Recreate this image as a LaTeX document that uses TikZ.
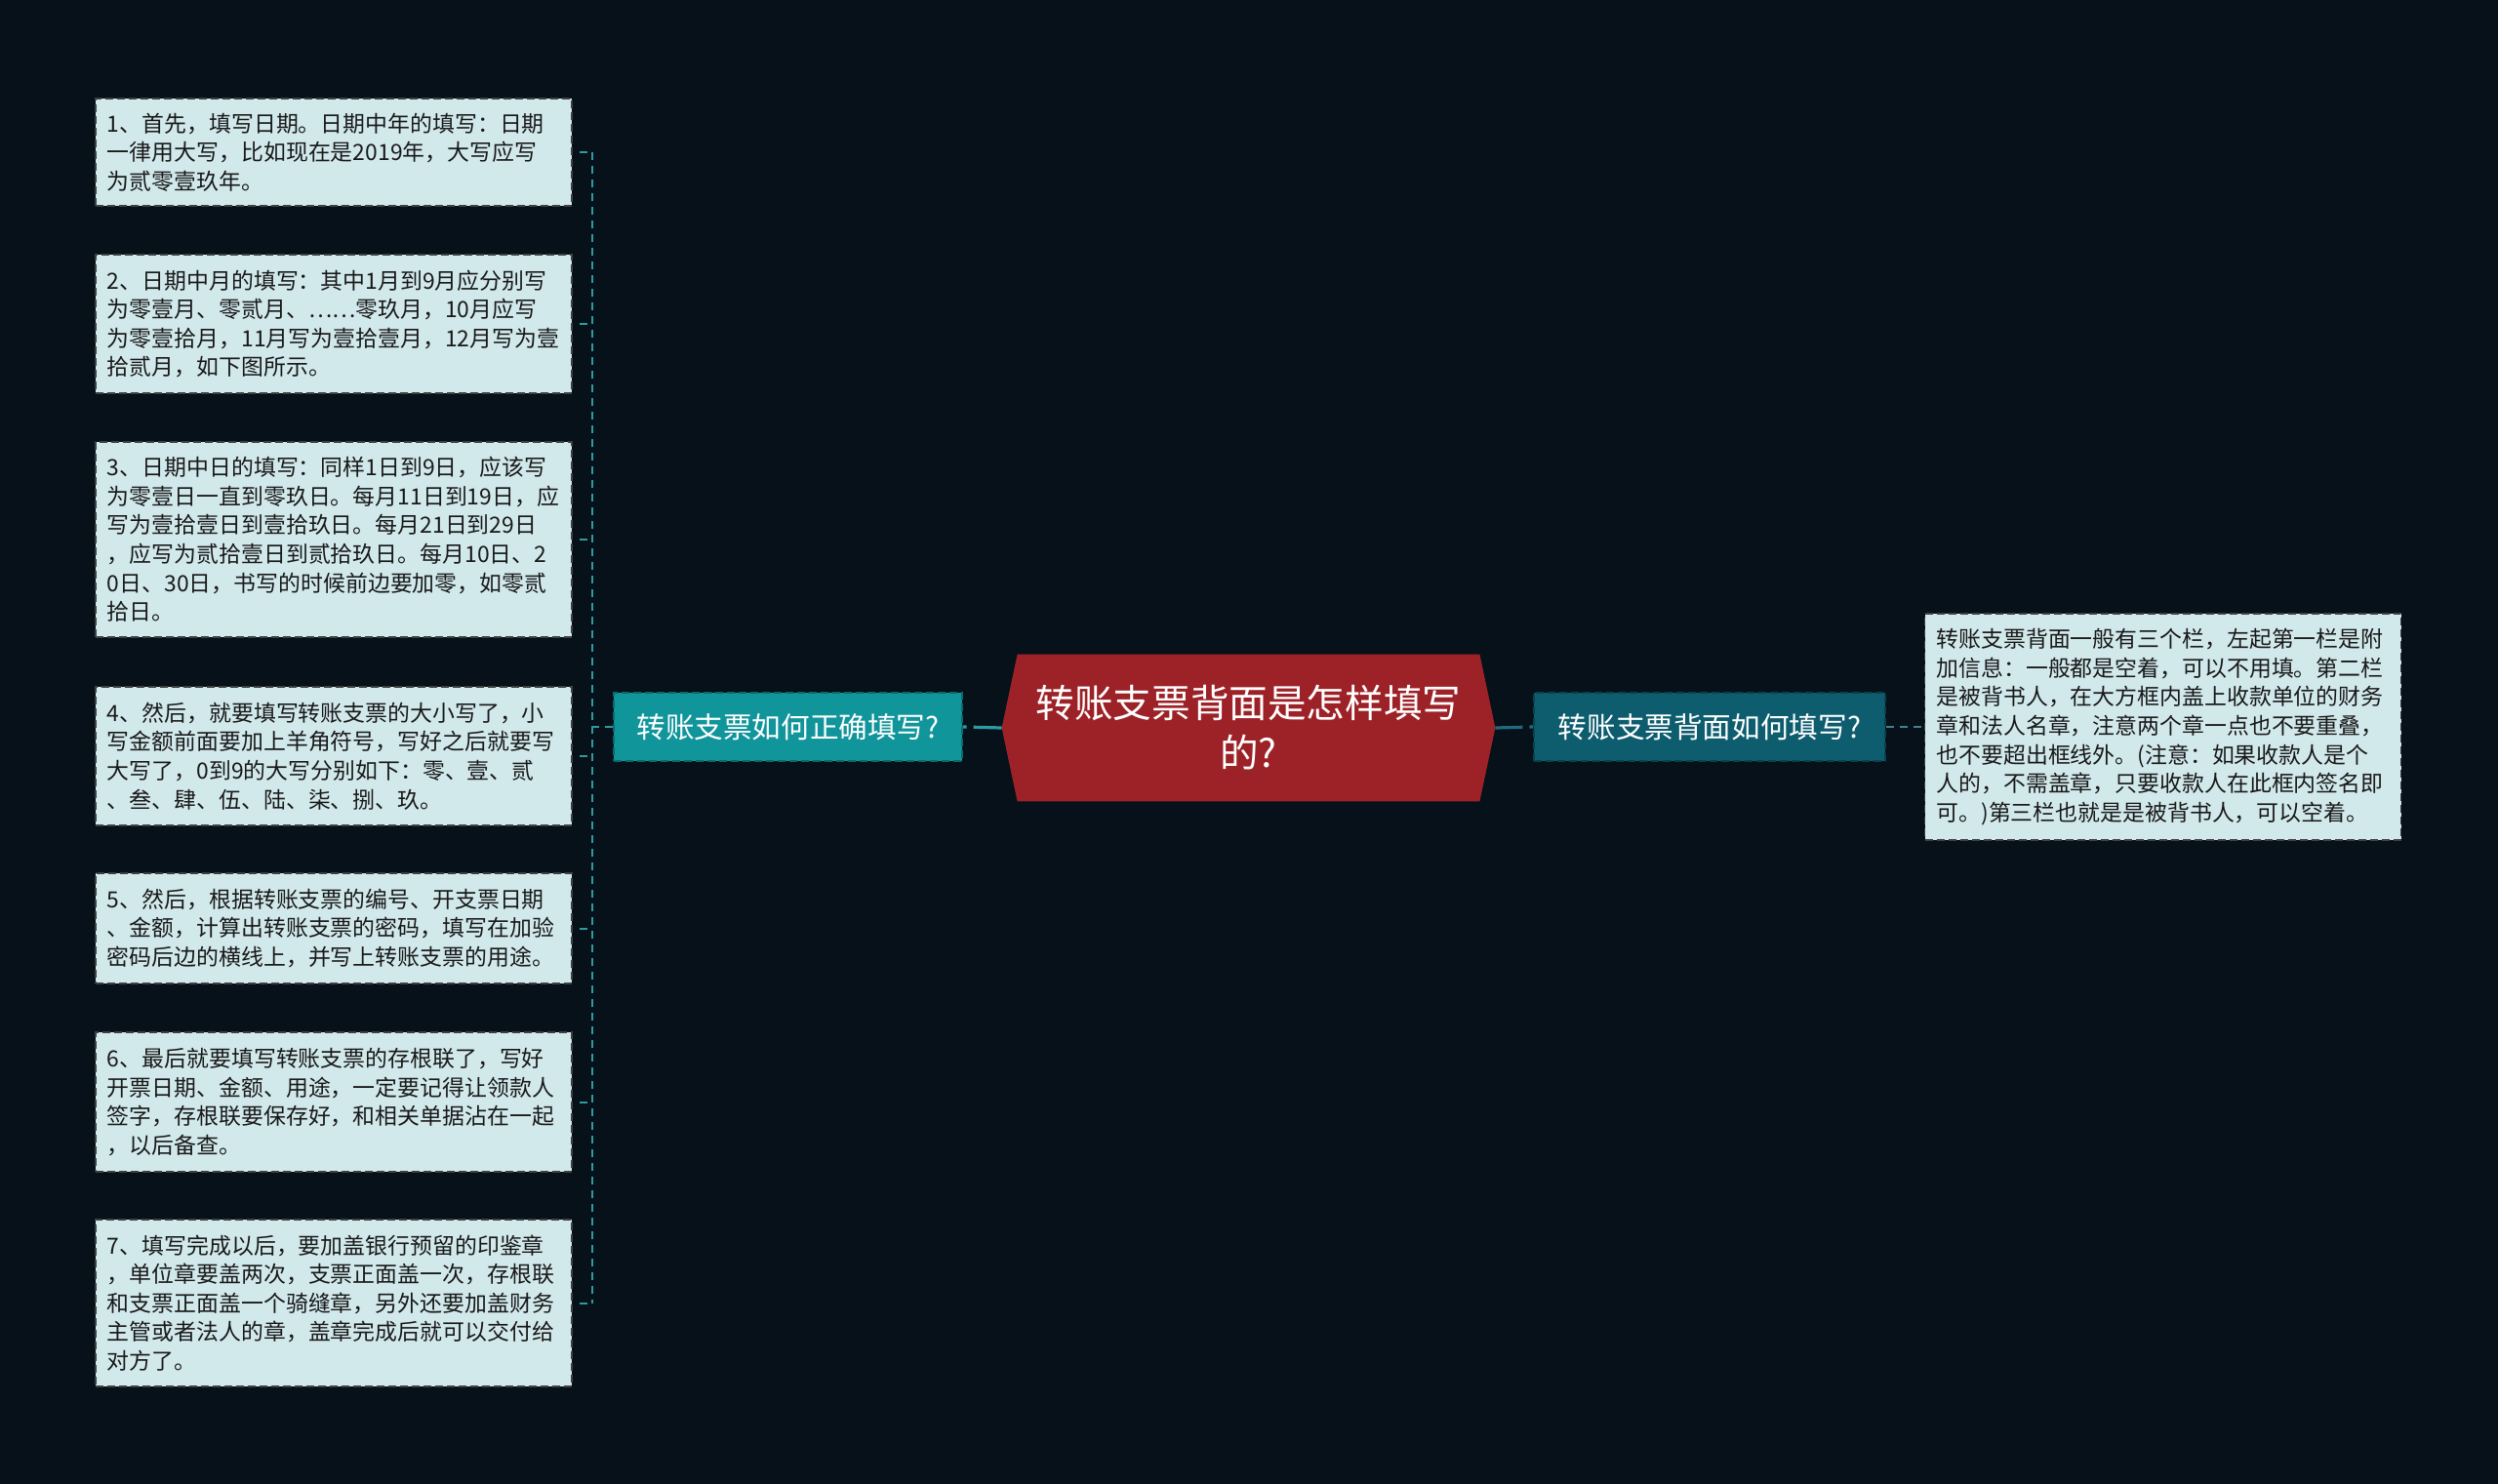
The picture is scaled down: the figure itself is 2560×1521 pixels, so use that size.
\documentclass[tikz,border=0pt]{standalone}
\usepackage{fontspec}
\newfontfamily\cjk{Noto Sans CJK SC}
\usetikzlibrary{backgrounds}
\definecolor{bgdark}{HTML}{06111A}
\definecolor{leaffill}{HTML}{D2E9EC}
\definecolor{tealmain}{HTML}{10959B}
\definecolor{tealdeep}{HTML}{0D5D6F}
\definecolor{rootred}{HTML}{9D2228}
\definecolor{linkteal}{HTML}{2E9AA2}
\definecolor{linkdeep}{HTML}{1F6B7D}
\begin{document}
\begin{tikzpicture}[x=0.5bp, y=-0.5bp,
  leaf/.style={rectangle, fill=leaffill, draw=black!75, dash pattern=on 4bp off 2bp, line width=0.6bp,
    text width=232bp, inner xsep=6bp, align=left, text=black!90,
    font=\cjk\fontsize{11.45bp}{14.8bp}\selectfont},
  branch/.style={rectangle, draw=#1!70!black, fill=#1, dash pattern=on 4bp off 2bp, line width=0.6bp,
    minimum height=35bp, text=white, font=\cjk\fontsize{14.8bp}{18bp}\selectfont},
  rootbox/.style={minimum width=252.5bp, minimum height=75bp, align=center, text=white,
    font=\cjk\fontsize{19.8bp}{25.5bp}\selectfont},
  treelink/.style={linkteal, line width=1bp, dash pattern=on 4bp off 3bp},
  mainlink/.style={line width=1.6bp, dash pattern=on 2bp off 3.5bp on 20bp off 0bp},
  sublink/.style={linkdeep!85!white, line width=1bp, dash pattern=on 4bp off 3bp}]
  % left column
  \node[leaf, minimum height=55bp] (l1) at (342,156) {1、首先，填写日期。日期中年的填写：日期\\一律用大写，比如现在是2019年，大写应写\\为贰零壹玖年。};
  \node[leaf, minimum height=71bp] (l2) at (342,332) {2、日期中月的填写：其中1月到9月应分别写\\为零壹月、零贰月、……零玖月，10月应写\\为零壹拾月，11月写为壹拾壹月，12月写为壹\\拾贰月，如下图所示。};
  \node[leaf, minimum height=100bp] (l3) at (342,553) {3、日期中日的填写：同样1日到9日，应该写\\为零壹日一直到零玖日。每月11日到19日，应\\写为壹拾壹日到壹拾玖日。每月21日到29日\\，应写为贰拾壹日到贰拾玖日。每月10日、2\\0日、30日，书写的时候前边要加零，如零贰\\拾日。};
  \node[leaf, minimum height=71bp] (l4) at (342,775) {4、然后，就要填写转账支票的大小写了，小\\写金额前面要加上羊角符号，写好之后就要写\\大写了，0到9的大写分别如下：零、壹、贰\\、叁、肆、伍、陆、柒、捌、玖。};
  \node[leaf, minimum height=56.5bp] (l5) at (342,951.5) {5、然后，根据转账支票的编号、开支票日期\\、金额，计算出转账支票的密码，填写在加验\\密码后边的横线上，并写上转账支票的用途。};
  \node[leaf, minimum height=71.5bp] (l6) at (342,1129.5) {6、最后就要填写转账支票的存根联了，写好\\开票日期、金额、用途，一定要记得让领款人\\签字，存根联要保存好，和相关单据沾在一起\\，以后备查。};
  \node[leaf, minimum height=85.5bp] (l7) at (342,1335.5) {7、填写完成以后，要加盖银行预留的印鉴章\\，单位章要盖两次，支票正面盖一次，存根联\\和支票正面盖一个骑缝章，另外还要加盖财务\\主管或者法人的章，盖章完成后就可以交付给\\对方了。};
  % middle
  \node[branch=tealmain, minimum width=178.5bp] (qleft) at (807.5,745) {转账支票如何正确填写?};
  \node[rootbox] (root) at (1279.5,746) {转账支票背面是怎样填写\\的?};
  \node[branch=tealdeep, minimum width=180bp] (qright) at (1752,745) {转账支票背面如何填写?};
  % right column
  \node[leaf, minimum height=116bp] (rleaf) at (2216.5,745) {转账支票背面一般有三个栏，左起第一栏是附\\加信息：一般都是空着，可以不用填。第二栏\\是被背书人，在大方框内盖上收款单位的财务\\章和法人名章，注意两个章一点也不要重叠，\\也不要超出框线外。(注意：如果收款人是个\\人的，不需盖章，只要收款人在此框内签名即\\可。)第三栏也就是是被背书人，可以空着。};
  \coordinate (trunk) at (607,745);
  \foreach \n in {1,...,7}
    \draw[treelink, shorten <=3.5bp] (l\n.east) -- (l\n.east -| trunk);
  \draw[treelink] (l1.east -| trunk) -- (l7.east -| trunk);
  \draw[treelink] (qleft.west) -- (trunk);
  \draw[mainlink, linkteal] (qleft.east) -- (root.west);
  \draw[mainlink, linkdeep] (qright.west) -- (root.east);
  \draw[sublink] (qright.east) -- (rleaf.west);
  \begin{scope}[on background layer]
    \fill[bgdark] (0,0) rectangle (2560,1521);
    \fill[rootred] ([xshift=8bp]root.north west) -- ([xshift=-8bp]root.north east) -- (root.east)
      -- ([xshift=-8bp]root.south east) -- ([xshift=8bp]root.south west) -- (root.west) -- cycle;
  \end{scope}
\end{tikzpicture}
\end{document}
